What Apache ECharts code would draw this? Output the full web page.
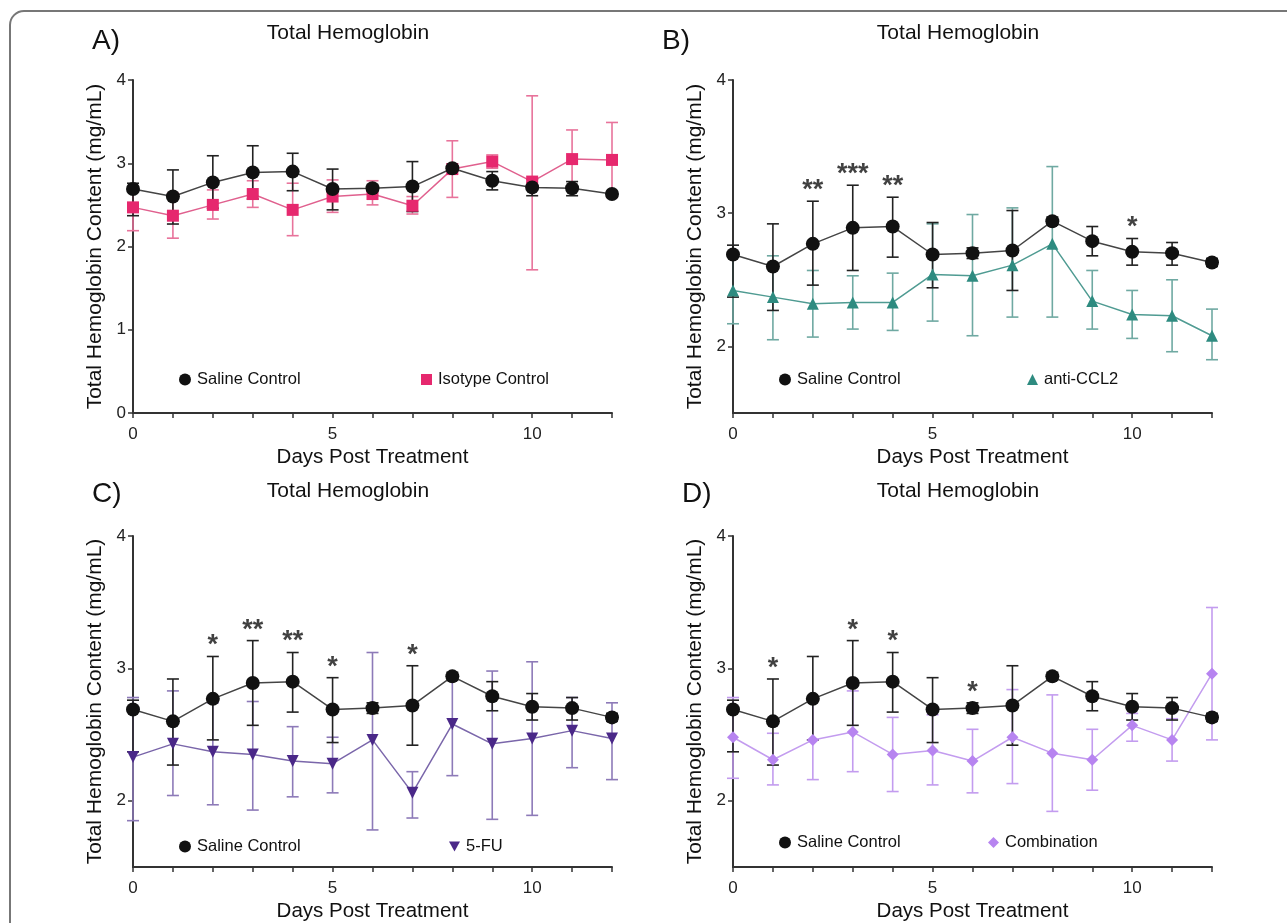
<!DOCTYPE html>
<html>
<head>
<meta charset="utf-8">
<title>Total Hemoglobin</title>
<script src="https://cdn.jsdelivr.net/npm/echarts@6/dist/echarts.min.js"></script>
<style>
  html, body { margin: 0; padding: 0; background: #fff; }
  #chart { width: 1287px; height: 923px; }
</style>
</head>
<body>
<div id="chart"></div>
<script>
// 横轴：治疗后天数
var days = [0, 1, 2, 3, 4, 5, 6, 7, 8, 9, 10, 11, 12];

// Saline Control（四个面板共用）
var salineMean = [2.69, 2.60, 2.77, 2.89, 2.90, 2.69, 2.70, 2.72, 2.94, 2.79, 2.71, 2.70, 2.63];
var salineLow = [2.37, 2.27, 2.46, 2.57, 2.67, 2.44, 2.66, 2.42, 2.91, 2.68, 2.61, 2.61, 2.60];
var salineHigh = [2.76, 2.92, 3.09, 3.21, 3.12, 2.93, 2.74, 3.02, 2.97, 2.90, 2.81, 2.78, 2.66];

// A) Isotype Control
var isoMean = [2.47, 2.37, 2.50, 2.63, 2.44, 2.60, 2.63, 2.49, 2.93, 3.02, 2.78, 3.05, 3.04];
var isoLow = [2.19, 2.10, 2.33, 2.47, 2.13, 2.41, 2.50, 2.39, 2.59, 2.94, 1.72, 2.71, 2.59];
var isoHigh = [2.71, 2.64, 2.68, 2.79, 2.76, 2.80, 2.79, 2.60, 3.27, 3.10, 3.81, 3.40, 3.49];

// B) anti-CCL2
var cclMean = [2.42, 2.37, 2.32, 2.33, 2.33, 2.54, 2.53, 2.61, 2.77, 2.34, 2.24, 2.23, 2.08];
var cclLow = [2.17, 2.05, 2.07, 2.13, 2.12, 2.19, 2.08, 2.22, 2.22, 2.13, 2.06, 1.96, 1.90];
var cclHigh = [2.67, 2.68, 2.57, 2.53, 2.55, 2.92, 2.99, 3.04, 3.35, 2.57, 2.42, 2.50, 2.28];

// C) 5-FU
var fuMean = [2.33, 2.43, 2.37, 2.35, 2.30, 2.28, 2.46, 2.06, 2.58, 2.43, 2.47, 2.53, 2.47];
var fuLow = [1.85, 2.04, 1.97, 1.93, 2.03, 2.06, 1.78, 1.87, 2.19, 1.86, 1.89, 2.25, 2.16];
var fuHigh = [2.78, 2.83, 2.74, 2.75, 2.56, 2.48, 3.12, 2.22, 2.94, 2.98, 3.05, 2.78, 2.74];

// D) Combination
var comboMean = [2.48, 2.31, 2.46, 2.52, 2.35, 2.38, 2.30, 2.48, 2.36, 2.31, 2.57, 2.46, 2.96];
var comboLow = [2.17, 2.12, 2.16, 2.22, 2.07, 2.12, 2.06, 2.13, 1.92, 2.08, 2.45, 2.30, 2.46];
var comboHigh = [2.78, 2.51, 2.76, 2.83, 2.63, 2.65, 2.54, 2.84, 2.80, 2.54, 2.66, 2.62, 3.46];

// 显著性星号 [天, 文本]
var starsB = [[2, "**"], [3, "***"], [4, "**"], [10, "*"]];
var starsC = [[2, "*"], [3, "**"], [4, "**"], [5, "*"], [7, "*"]];
var starsD = [[1, "*"], [3, "*"], [4, "*"], [6, "*"]];

// 刻度
var yTicksFull = [0, 1, 2, 3, 4];
var yTicksPart = [2, 3, 4];
var xLabelTicks = [0, 5, 10];

(function () {
  var myChart = echarts.init(document.getElementById("chart"));
  var font = "Liberation Sans, Arial, Helvetica, sans-serif";

  // 面板位置
  var panels = [
    { left: 133, top: 80, min: 0 },
    { left: 733, top: 80, min: 1.5 },
    { left: 133, top: 536, min: 1.5 },
    { left: 733, top: 536, min: 1.5 },
  ];

  function pairs(mean) {
    return days.map(function (d, i) { return [d, mean[i]]; });
  }
  function errData(low, high) {
    return days.map(function (d, i) { return [d, low[i], high[i]]; });
  }

  // 误差线
  function errSeries(idx, low, high, color, z) {
    return {
      type: "custom",
      xAxisIndex: idx,
      yAxisIndex: idx,
      z: z,
      silent: true,
      data: errData(low, high),
      encode: { x: 0, y: [1, 2] },
      renderItem: function (params, api) {
        var lo = api.coord([api.value(0), api.value(1)]);
        var hi = api.coord([api.value(0), api.value(2)]);
        var w = 6;
        var st = { stroke: color, lineWidth: 1.6 };
        return {
          type: "group",
          children: [
            { type: "line", shape: { x1: lo[0], y1: lo[1], x2: hi[0], y2: hi[1] }, style: st },
            { type: "line", shape: { x1: lo[0] - w, y1: lo[1], x2: lo[0] + w, y2: lo[1] }, style: st },
            { type: "line", shape: { x1: hi[0] - w, y1: hi[1], x2: hi[0] + w, y2: hi[1] }, style: st },
          ],
        };
      },
    };
  }

  // 折线
  function lineSeries(idx, name, mean, color, lineColor, symbol, size, z) {
    return {
      name: name,
      type: "line",
      xAxisIndex: idx,
      yAxisIndex: idx,
      z: z,
      data: pairs(mean),
      symbol: symbol,
      symbolSize: size,
      showSymbol: true,
      lineStyle: { color: lineColor, width: 1.5 },
      itemStyle: { color: color },
      emphasis: { disabled: true },
      animation: false,
    };
  }

  // 星号
  function starSeries(idx, stars) {
    return {
      type: "scatter",
      xAxisIndex: idx,
      yAxisIndex: idx,
      symbolSize: 0,
      z: 10,
      data: stars.map(function (s) {
        return { value: [s[0], salineHigh[s[0]]], label: { formatter: s[1] } };
      }),
      label: {
        show: true,
        position: "top",
        distance: -3,
        fontSize: 27,
        fontWeight: "bold",
        fontFamily: font,
        color: "#111",
      },
    };
  }

  var invTri = "path://M0,0 L10,0 L5,9 Z";

  var option = {
    backgroundColor: "#fff",
    animation: false,
    textStyle: { fontFamily: font },
    title: [
      { text: "A)", left: 92, top: 27 },
      { text: "B)", left: 662, top: 27 },
      { text: "C)", left: 92, top: 480 },
      { text: "D)", left: 682, top: 480 },
      { text: "Total Hemoglobin", left: 348, top: 23, textAlign: "center" },
      { text: "Total Hemoglobin", left: 958, top: 23, textAlign: "center" },
      { text: "Total Hemoglobin", left: 348, top: 481, textAlign: "center" },
      { text: "Total Hemoglobin", left: 958, top: 481, textAlign: "center" },
    ].map(function (t, i) {
      t.padding = 0;
      t.textStyle = {
        fontFamily: font,
        fontWeight: "normal",
        color: "#111",
        fontSize: i < 4 ? 28 : 21,
      };
      return t;
    }),
    legend: [
      { left: 179, top: 371, data: [{ name: "Saline Control", icon: "circle" }] },
      { left: 421, top: 371, data: [{ name: "Isotype Control", icon: "rect" }] },
      { left: 779, top: 371, data: [{ name: "Saline Control", icon: "circle" }] },
      { left: 1027, top: 371, data: [{ name: "anti-CCL2", icon: "triangle" }] },
      { left: 179, top: 838, data: [{ name: "Saline Control", icon: "circle" }] },
      { left: 449, top: 838, data: [{ name: "5-FU", icon: invTri }] },
      { left: 779, top: 834, data: [{ name: "Saline Control", icon: "circle" }] },
      { left: 988, top: 834, data: [{ name: "Combination", icon: "diamond" }] },
    ].map(function (l, i) {
      l.padding = 0;
      l.itemWidth = i % 2 === 0 ? 12 : 11;
      l.itemHeight = i % 2 === 0 ? 12 : 11;
      l.itemGap = 6;
      l.selectedMode = false;
      l.textStyle = { fontSize: 16.5, color: "#111", fontFamily: font, padding: [0, 0, 0, 1] };
      return l;
    }),
    grid: panels.map(function (p) {
      return { left: p.left, top: p.top, width: 479, height: 333, containLabel: false };
    }),
    xAxis: panels.map(function (p, i) {
      return {
        gridIndex: i,
        type: "value",
        min: 0,
        max: 12,
        interval: 1,
        name: "Days Post Treatment",
        nameLocation: "middle",
        nameGap: 34,
        nameTextStyle: { fontSize: 20.5, color: "#111", fontFamily: font },
        axisLine: { onZero: false, lineStyle: { color: "#333", width: 2 } },
        axisTick: { show: true, length: 5, lineStyle: { color: "#333", width: 1.5 } },
        axisLabel: {
          customValues: xLabelTicks,
          margin: 13,
          fontSize: 17,
          color: "#222",
          fontFamily: font,
        },
        splitLine: { show: false },
      };
    }),
    yAxis: panels.map(function (p, i) {
      var ticks = p.min === 0 ? yTicksFull : yTicksPart;
      return {
        gridIndex: i,
        type: "value",
        min: p.min,
        max: 4,
        interval: 0.5,
        name: "Total Hemoglobin Content (mg/mL)",
        nameLocation: "middle",
        nameGap: 27,
        nameTextStyle: { fontSize: 21, color: "#111", fontFamily: font },
        axisLine: { show: true, onZero: false, lineStyle: { color: "#333", width: 2 } },
        axisTick: { show: true, length: 5, customValues: ticks, lineStyle: { color: "#333", width: 1.5 } },
        axisLabel: {
          customValues: ticks,
          margin: 7,
          fontSize: 17,
          color: "#222",
          fontFamily: font,
        },
        splitLine: { show: false },
      };
    }),
    series: [
      // A
      errSeries(0, isoLow, isoHigh, "#e8739b", 1),
      errSeries(0, salineLow, salineHigh, "#222", 2),
      lineSeries(0, "Isotype Control", isoMean, "#e6286e", "#e0608e", "rect", 12, 3),
      lineSeries(0, "Saline Control", salineMean, "#111", "#444", "circle", 14, 4),
      // B
      errSeries(1, cclLow, cclHigh, "#6fa9a2", 1),
      errSeries(1, salineLow, salineHigh, "#222", 2),
      lineSeries(1, "anti-CCL2", cclMean, "#2e8b80", "#4f9b92", "triangle", 12, 3),
      lineSeries(1, "Saline Control", salineMean, "#111", "#444", "circle", 14, 4),
      starSeries(1, starsB),
      // C
      errSeries(2, fuLow, fuHigh, "#8d7ab8", 1),
      errSeries(2, salineLow, salineHigh, "#222", 2),
      lineSeries(2, "5-FU", fuMean, "#4a2888", "#7a66aa", invTri, 12, 3),
      lineSeries(2, "Saline Control", salineMean, "#111", "#444", "circle", 14, 4),
      starSeries(2, starsC),
      // D
      errSeries(3, comboLow, comboHigh, "#c39cef", 1),
      errSeries(3, salineLow, salineHigh, "#222", 2),
      lineSeries(3, "Combination", comboMean, "#b784f0", "#c39cef", "diamond", 12, 3),
      lineSeries(3, "Saline Control", salineMean, "#111", "#444", "circle", 14, 4),
      starSeries(3, starsD),
    ],
    // 外框
    graphic: [
      {
        type: "rect",
        shape: { x: 10, y: 11, width: 1300, height: 950, r: 14 },
        style: { fill: "none", stroke: "#777", lineWidth: 2 },
        silent: true,
      },
    ],
  };

  myChart.setOption(option);
  window.addEventListener("resize", function () {
    myChart.resize();
  });
})();
</script>
</body>
</html>
